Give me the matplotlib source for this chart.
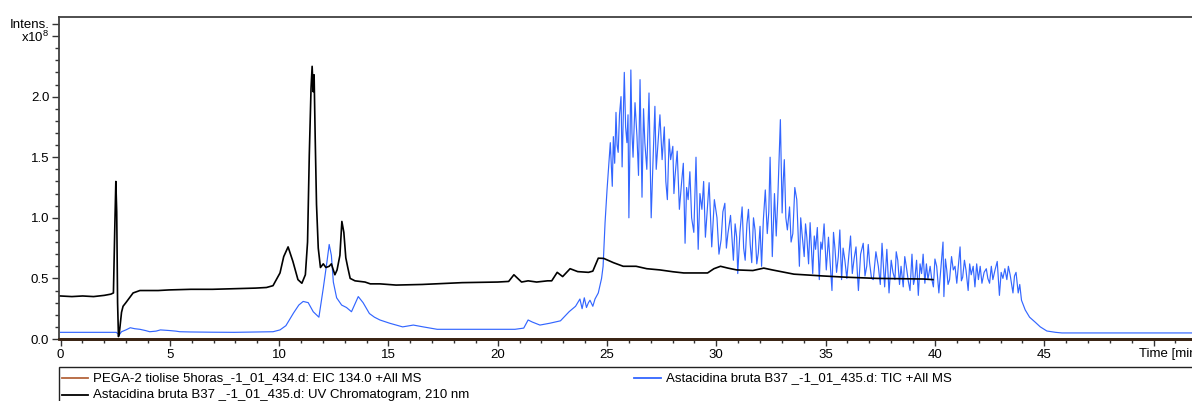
import matplotlib
matplotlib.use("Agg")
import matplotlib.pyplot as plt
from matplotlib.lines import Line2D
from matplotlib.patches import Rectangle
from matplotlib.ticker import MultipleLocator, FixedLocator

plt.rcParams['font.family'] = ['Liberation Sans', 'DejaVu Sans']
plt.rcParams['mathtext.fontset'] = 'custom'
plt.rcParams['mathtext.rm'] = 'Liberation Sans'
plt.rcParams['mathtext.it'] = 'Liberation Sans'

# ---------------- data (time in min, intensity in 1e8) ----------------
uv_time = [0.0, 0.52, 1.01, 1.51, 2.0, 2.3, 2.42, 2.48, 2.53, 2.57,
           2.61, 2.65, 2.69, 2.79, 2.86, 2.99, 3.32, 3.63, 4.47, 4.97,
           5.96, 6.95, 7.94, 8.92, 9.42, 9.72, 10.04, 10.21, 10.41, 10.63,
           10.86, 11.04, 11.2, 11.3, 11.38, 11.46, 11.51, 11.56, 11.6, 11.65,
           11.71, 11.79, 11.89, 12.02, 12.14, 12.29, 12.39, 12.55, 12.65, 12.78,
           12.87, 12.96, 13.05, 13.14, 13.25, 13.47, 13.93, 14.17, 14.61, 15.35,
           16.54, 18.37, 20.0, 20.5, 20.74, 21.09, 21.39, 21.78, 22.28, 22.47,
           22.72, 22.97, 23.31, 23.66, 24.15, 24.35, 24.6, 24.85, 25.29, 25.74,
           26.33, 26.82, 27.42, 28.01, 28.51, 29.6, 29.89, 30.19, 30.53, 30.93,
           31.67, 32.17, 32.56, 33.55, 34.89, 35.92, 37.36, 39.49, 39.91]
uv_int = [0.355, 0.35, 0.355, 0.35, 0.36, 0.37, 0.38, 0.9, 1.30, 1.05,
          0.3, 0.02, 0.05, 0.22, 0.27, 0.3, 0.38, 0.40, 0.40, 0.405,
          0.41, 0.41, 0.415, 0.42, 0.425, 0.44, 0.545, 0.68, 0.76, 0.64,
          0.49, 0.46, 0.53, 0.8, 1.52, 2.07, 2.25, 2.04, 2.18, 1.66,
          1.11, 0.75, 0.59, 0.62, 0.59, 0.60, 0.62, 0.53, 0.57, 0.69,
          0.97, 0.88, 0.67, 0.59, 0.5, 0.48, 0.47, 0.455, 0.455, 0.445,
          0.45, 0.465, 0.47, 0.475, 0.53, 0.47, 0.48, 0.47, 0.48, 0.48,
          0.55, 0.515, 0.58, 0.556, 0.55, 0.56, 0.667, 0.665, 0.63, 0.6,
          0.6, 0.58, 0.57, 0.555, 0.545, 0.545, 0.58, 0.6, 0.585, 0.57,
          0.565, 0.585, 0.57, 0.535, 0.52, 0.51, 0.50, 0.495, 0.49]

# TIC: smooth part before the noisy region
tic_time_a = [0.0, 2.55, 2.61, 2.67, 2.79, 2.99, 3.19, 3.39, 3.63, 3.88,
              4.08, 4.37, 4.57, 4.97, 5.27, 5.46, 5.96, 6.95, 7.94, 8.92,
              9.72, 10.04, 10.31, 10.66, 10.9, 11.1, 11.33, 11.56, 11.82, 12.02,
              12.19, 12.29, 12.39, 12.48, 12.63, 12.86, 13.08, 13.31, 13.47, 13.62,
              13.84, 14.13, 14.36, 14.61, 15.06, 15.65, 16.14, 16.59, 17.23, 17.83,
              18.81, 19.8, 20.79, 21.19, 21.39, 21.58, 21.93, 22.38, 22.87, 23.27,
              23.56, 23.76, 23.86, 23.96, 24.06, 24.15, 24.22, 24.35, 24.45, 24.6,
              24.75, 24.82, 24.91, 25.0, 25.15, 25.24]
tic_int_a = [0.055, 0.055, 0.045, 0.03, 0.06, 0.075, 0.093, 0.085, 0.08, 0.07,
             0.06, 0.065, 0.075, 0.07, 0.065, 0.06, 0.058, 0.056, 0.055, 0.058,
             0.06, 0.075, 0.11, 0.215, 0.28, 0.31, 0.30, 0.225, 0.18, 0.42,
             0.64, 0.78, 0.69, 0.47, 0.34, 0.28, 0.26, 0.225, 0.29, 0.35,
             0.30, 0.21, 0.18, 0.157, 0.13, 0.10, 0.115, 0.10, 0.08, 0.08,
             0.08, 0.08, 0.08, 0.09, 0.157, 0.14, 0.115, 0.13, 0.15, 0.226,
             0.27, 0.33, 0.25, 0.34, 0.26, 0.30, 0.32, 0.27, 0.33, 0.38,
             0.5, 0.6, 0.96, 1.23, 1.62, 1.26]

# TIC: noisy region 25.3 - 44 min
tic_time_b = [25.29, 25.35, 25.41, 25.46, 25.51, 25.57, 25.64, 25.69, 25.74, 25.79,
              25.85, 25.91, 25.96, 26.0, 26.05, 26.09, 26.14, 26.19, 26.28, 26.37,
              26.44, 26.51, 26.6, 26.67, 26.73, 26.82, 26.92, 27.02, 27.1, 27.19,
              27.25, 27.32, 27.42, 27.52, 27.62, 27.69, 27.76, 27.84, 27.91, 28.01,
              28.06, 28.11, 28.21, 28.31, 28.41, 28.49, 28.57, 28.64, 28.71, 28.79,
              28.87, 28.97, 29.07, 29.17, 29.25, 29.34, 29.42, 29.5, 29.58, 29.67,
              29.79, 29.91, 30.03, 30.12, 30.22, 30.3, 30.39, 30.46, 30.53, 30.65,
              30.78, 30.86, 30.93, 30.98, 31.08, 31.18, 31.25, 31.32, 31.4, 31.47,
              31.55, 31.62, 31.7, 31.77, 31.85, 31.92, 32.0, 32.07, 32.15, 32.24,
              32.33, 32.4, 32.46, 32.56, 32.66, 32.74, 32.81, 32.93, 33.01, 33.06,
              33.11, 33.18, 33.25, 33.35, 33.42, 33.5, 33.59, 33.68, 33.8, 33.86,
              33.92, 34.02, 34.08, 34.14, 34.22, 34.29, 34.35, 34.41, 34.48, 34.54,
              34.62, 34.71, 34.78, 34.84, 34.93, 35.03, 35.13, 35.21, 35.29, 35.36,
              35.43, 35.5, 35.58, 35.65, 35.73, 35.8, 35.88, 35.97, 36.07, 36.14,
              36.22, 36.3, 36.39, 36.45, 36.5, 36.6, 36.72, 36.8, 36.88, 36.95,
              37.01, 37.1, 37.18, 37.3, 37.41, 37.5, 37.58, 37.7, 37.8, 37.9,
              38.0, 38.08, 38.17, 38.23, 38.3, 38.38, 38.45, 38.55, 38.62, 38.69,
              38.78, 38.86, 38.95, 39.02, 39.09, 39.16, 39.24, 39.32, 39.39, 39.46,
              39.54, 39.61, 39.68, 39.78, 39.85, 39.93, 40.0, 40.08, 40.18, 40.27,
              40.37, 40.41, 40.48, 40.54, 40.6, 40.67, 40.76, 40.84, 40.92, 41.0,
              41.08, 41.15, 41.21, 41.27, 41.35, 41.42, 41.52, 41.59, 41.66, 41.75,
              41.83, 41.91, 41.99, 42.07, 42.15, 42.25, 42.35, 42.42, 42.5, 42.58,
              42.65, 42.75, 42.85, 42.95, 43.03, 43.11, 43.2, 43.29, 43.36, 43.44,
              43.57, 43.64, 43.71, 43.81, 43.88, 43.96]
tic_int_b = [1.67, 1.45, 1.87, 1.60, 1.54, 1.85, 2.0, 1.42, 1.80, 2.2,
             1.75, 1.62, 1.85, 1.0, 1.6, 2.22, 1.70, 1.5, 1.95, 1.67,
             1.35, 2.14, 1.17, 1.90, 1.62, 1.40, 2.03, 1.0, 1.45, 1.92,
             1.40, 1.59, 1.85, 1.48, 1.75, 1.30, 1.15, 1.65, 1.48, 1.59,
             1.20, 1.34, 1.55, 1.07, 1.29, 1.45, 0.79, 1.25, 1.15, 1.38,
             1.0, 0.88, 1.5, 0.74, 1.20, 1.07, 1.30, 0.84, 1.05, 1.29,
             0.76, 1.15, 1.0, 0.70, 0.82, 1.05, 1.12, 0.75, 0.87, 1.02,
             0.65, 0.95, 0.84, 0.54, 0.88, 1.09, 0.75, 0.65, 0.95, 1.07,
             0.78, 0.63, 1.0, 0.9, 0.62, 0.71, 0.93, 0.6, 0.98, 1.23,
             0.87, 1.05, 1.5, 0.68, 1.2, 0.85, 1.15, 1.81, 1.04, 1.30,
             1.48, 1.00, 0.9, 1.09, 0.80, 0.87, 1.25, 1.15, 0.6, 1.00,
             0.87, 0.68, 0.95, 0.84, 0.62, 0.96, 0.75, 0.54, 0.85, 0.74,
             0.92, 0.49, 0.80, 0.74, 0.95, 0.57, 0.84, 0.62, 0.40, 0.88,
             0.74, 0.55, 0.68, 0.90, 0.49, 0.75, 0.65, 0.50, 0.71, 0.85,
             0.54, 0.66, 0.76, 0.55, 0.40, 0.70, 0.79, 0.52, 0.6, 0.78,
             0.63, 0.50, 0.49, 0.72, 0.6, 0.45, 0.79, 0.43, 0.74, 0.38,
             0.65, 0.55, 0.49, 0.72, 0.65, 0.45, 0.6, 0.43, 0.68, 0.6,
             0.48, 0.40, 0.70, 0.45, 0.51, 0.65, 0.36, 0.62, 0.54, 0.70,
             0.46, 0.62, 0.49, 0.60, 0.50, 0.43, 0.66, 0.6, 0.38, 0.58,
             0.80, 0.35, 0.66, 0.57, 0.45, 0.49, 0.68, 0.57, 0.60, 0.46,
             0.62, 0.76, 0.48, 0.51, 0.65, 0.57, 0.40, 0.62, 0.53, 0.60,
             0.43, 0.62, 0.49, 0.60, 0.46, 0.55, 0.58, 0.50, 0.46, 0.60,
             0.49, 0.57, 0.64, 0.36, 0.55, 0.5, 0.58, 0.49, 0.60, 0.53,
             0.38, 0.52, 0.55, 0.38, 0.45, 0.32]

# TIC: tail after the noisy region
tic_time_c = [44.13, 44.33, 44.58, 44.82, 45.12, 45.52, 45.81, 51.8]
tic_int_c = [0.24, 0.18, 0.14, 0.10, 0.066, 0.055, 0.05, 0.05]

eic_time = [0.0, 51.8]
eic_int = [0.0, 0.0]

series_labels = ["PEGA-2 tiolise 5horas_-1_01_434.d: EIC 134.0 +All MS",
                 "Astacidina bruta B37 _-1_01_435.d: UV Chromatogram, 210 nm",
                 "Astacidina bruta B37 _-1_01_435.d: TIC +All MS"]
y_major = [0.0, 0.5, 1.0, 1.5, 2.0, 2.5, 2.6]
y_major_labels = ["0.0", "0.5", "1.0", "1.5", "2.0", "x10$^{8}$", "Intens."]
x_major = [0, 5, 10, 15, 20, 25, 30, 35, 40, 45]

C_BROWN = "#b4643c"
C_BLUE = "#3366ff"
C_BLACK = "#000000"

tic_time = tic_time_a + tic_time_b + tic_time_c
tic_int = tic_int_a + tic_int_b + tic_int_c

W, H = 1192, 401
fig = plt.figure(figsize=(W / 100, H / 100), dpi=100)
ax = fig.add_axes([59 / W, (H - 339) / H, (W - 59) / W, (339 - 17) / H])

ax.plot(tic_time, tic_int, color=C_BLUE, lw=0.85, zorder=2)
ax.plot(uv_time, uv_int, color=C_BLACK, lw=1.2, zorder=3)
ax.plot(eic_time, eic_int, color="#3a2414", lw=2.0, zorder=4, clip_on=False)

ax.set_xlim(-0.07, 51.76)
ax.set_ylim(0, 2.657)

for s in ["top", "left"]:
    ax.spines[s].set_color("#404040")
    ax.spines[s].set_linewidth(1.3)
ax.spines["right"].set_visible(False)
ax.spines["bottom"].set_color("#3a2414")
ax.spines["bottom"].set_linewidth(2.0)

ax.xaxis.set_major_locator(FixedLocator(x_major + [50]))
ax.set_xticklabels([str(v) for v in x_major] + [""])
ax.xaxis.set_minor_locator(MultipleLocator(1))
ax.yaxis.set_major_locator(FixedLocator(y_major))
ax.set_yticklabels(y_major_labels)
ax.yaxis.set_minor_locator(MultipleLocator(0.1))
ax.tick_params(which="major", direction="out", length=5, width=1.0,
               color="#333333", labelsize=9.5, pad=2)
ax.tick_params(which="minor", direction="out", length=3, width=1.0,
               color="#333333")

ax.text(1139 / W, (H - 354) / H, "Time [min]", transform=fig.transFigure,
        fontsize=9.5, ha="left", va="center")

# legend below the plot
fig.add_artist(Rectangle((59 / W, -0.1), 1.0, (H - 367) / H + 0.1,
                         transform=fig.transFigure, fill=False,
                         edgecolor="#222222", lw=1.0))
rows = [(62, 88, 93, 378, C_BROWN, series_labels[0]),
        (62, 88, 93, 395, C_BLACK, series_labels[1]),
        (634, 661, 666, 378, C_BLUE, series_labels[2])]
for x0, x1, xt, yy, col, lab in rows:
    yf = (H - yy) / H
    fig.add_artist(Line2D([x0 / W, x1 / W], [yf, yf], transform=fig.transFigure,
                          color=col, lw=1.3))
    fig.text(xt / W, yf, lab, fontsize=9.5, ha="left", va="center")

fig.savefig("out.png", dpi=100)
